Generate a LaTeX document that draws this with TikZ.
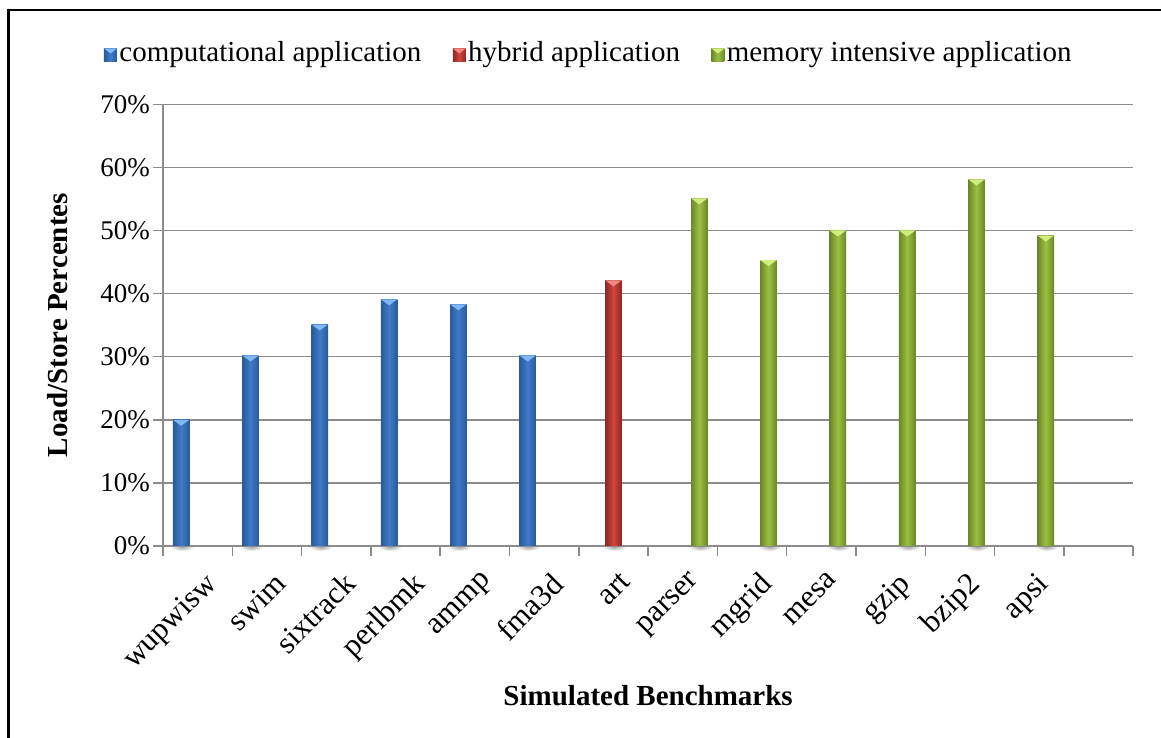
\documentclass[tikz,border=0pt]{standalone}
\usepackage{fontspec}
\setmainfont{Liberation Serif}
\usetikzlibrary{positioning,calc}

\definecolor{compblue}{HTML}{3F7BC8}
\definecolor{compdark}{HTML}{2A5A98}
\definecolor{complight}{HTML}{80B8F5}
\definecolor{hybred}{HTML}{D2453F}
\definecolor{hybdark}{HTML}{8F2623}
\definecolor{hyblight}{HTML}{F08883}
\definecolor{memgreen}{HTML}{9DC042}
\definecolor{memdark}{HTML}{6A862A}
\definecolor{memlight}{HTML}{D2EC82}
\definecolor{gridgray}{HTML}{8C8C8C}

\tikzset{
  gridline/.style={gridgray, line width=1.5pt},
  ticklab/.style={font=\fontsize{27}{29}\selectfont, inner sep=1pt},
  catlab/.style={font=\fontsize{31}{33}\selectfont, inner sep=1pt},
  axtitle/.style={font=\fontsize{29}{31}\selectfont\bfseries},
  compbar/.style={left color=compdark, right color=compdark, middle color=compblue},
  hybbar/.style={left color=hybdark, right color=hybdark, middle color=hybred},
  membar/.style={left color=memdark, right color=memdark, middle color=memgreen},
  comptop/.style={fill=complight},
  hybtop/.style={fill=hyblight},
  memtop/.style={fill=memlight},
  legsq/.style={minimum size=13pt, inner sep=0pt, path picture={
      \fill[#1] (path picture bounding box.north west) -- (path picture bounding box.north east)
        -- ([yshift=-5pt]path picture bounding box.north) -- cycle;}},
  legtext/.style={font=\fontsize{29}{31}\selectfont, inner sep=1pt},
}
\def\barw{16.5pt}

\begin{document}
\begin{tikzpicture}[x=69.3pt, y=6.31pt]
   \useasboundingbox (-163pt,-192pt) rectangle (998pt,546pt);
   % 枠
   \draw[line width=2.5pt] (-154.3pt,-200pt) -- (-154.3pt,536pt) -- (1010pt,536pt);

   % 棒の影
   \foreach \off [count=\i] in {-1,-1,-1,-1,-1,-1,0,1,1,1,1,1,1}
      \shade[inner color=gray!70, outer color=white] ($(\i-0.5,0)+(\off*\barw,0)+(1pt,-1pt)$) ellipse (12pt and 4pt);

   % 目盛り線
   \foreach \v in {0,10,...,70} {
      \draw[gridline] (-10pt,\v) -- (14,\v);
      \node[ticklab, anchor=east] (y\v) at (-12pt,\v) {\v\%};
   }
   \draw[gridline] (0,0) -- (0,70);
   \foreach \k in {0,...,14}
      \draw[gridline] (\k,0) -- ++(0,-10pt);

   % 棒グラフ
   \foreach \name/\val/\ser/\off [count=\i] in {wupwisw/20/comp/-1, swim/30.2/comp/-1,
         sixtrack/35.1/comp/-1, perlbmk/39.1/comp/-1, ammp/38.3/comp/-1, fma3d/30.2/comp/-1,
         art/42.1/hyb/0, parser/55.1/mem/1, mgrid/45.3/mem/1, mesa/50/mem/1,
         gzip/50/mem/1, bzip2/58.1/mem/1, apsi/49.2/mem/1} {
      \coordinate (b\i) at ($(\i-0.5,0)+(\off*\barw,0)$);
      \shade[\ser bar] ($(b\i)+(-\barw/2,0)$) rectangle ($(b\i)+(\barw/2,\val)$);
      \fill[\ser top] ($(b\i)+(-\barw/2,\val)$) -- ($(b\i)+(\barw/2,\val)$) -- ($(b\i)+(0,\val)+(0,-6pt)$) -- cycle;
      \node[catlab, anchor=north east, rotate=45] (n\i) at ($(\i-0.5,0)+(6pt,-23pt)$) {\name};
   }

   % 軸ラベル
   \node[axtitle, rotate=90] (ytitle) at (-105pt,35) {Load/Store Percentes};
   \node[axtitle] (xtitle) at (7,-150pt) {Simulated Benchmarks};

   % 凡例
   \node[legsq=comptop, compbar] (lgcomp) at (-52.5pt,491pt) {};
   \node[legtext, right=1pt of lgcomp] (txcomp) {computational application};
   \node[legsq=hybtop, hybbar, right=30pt of txcomp] (lghyb) {};
   \node[legtext, right=1pt of lghyb] (txhyb) {hybrid application};
   \node[legsq=memtop, membar, right=30pt of txhyb] (lgmem) {};
   \node[legtext, right=1pt of lgmem] (txmem) {memory intensive application};
\end{tikzpicture}
\end{document}
